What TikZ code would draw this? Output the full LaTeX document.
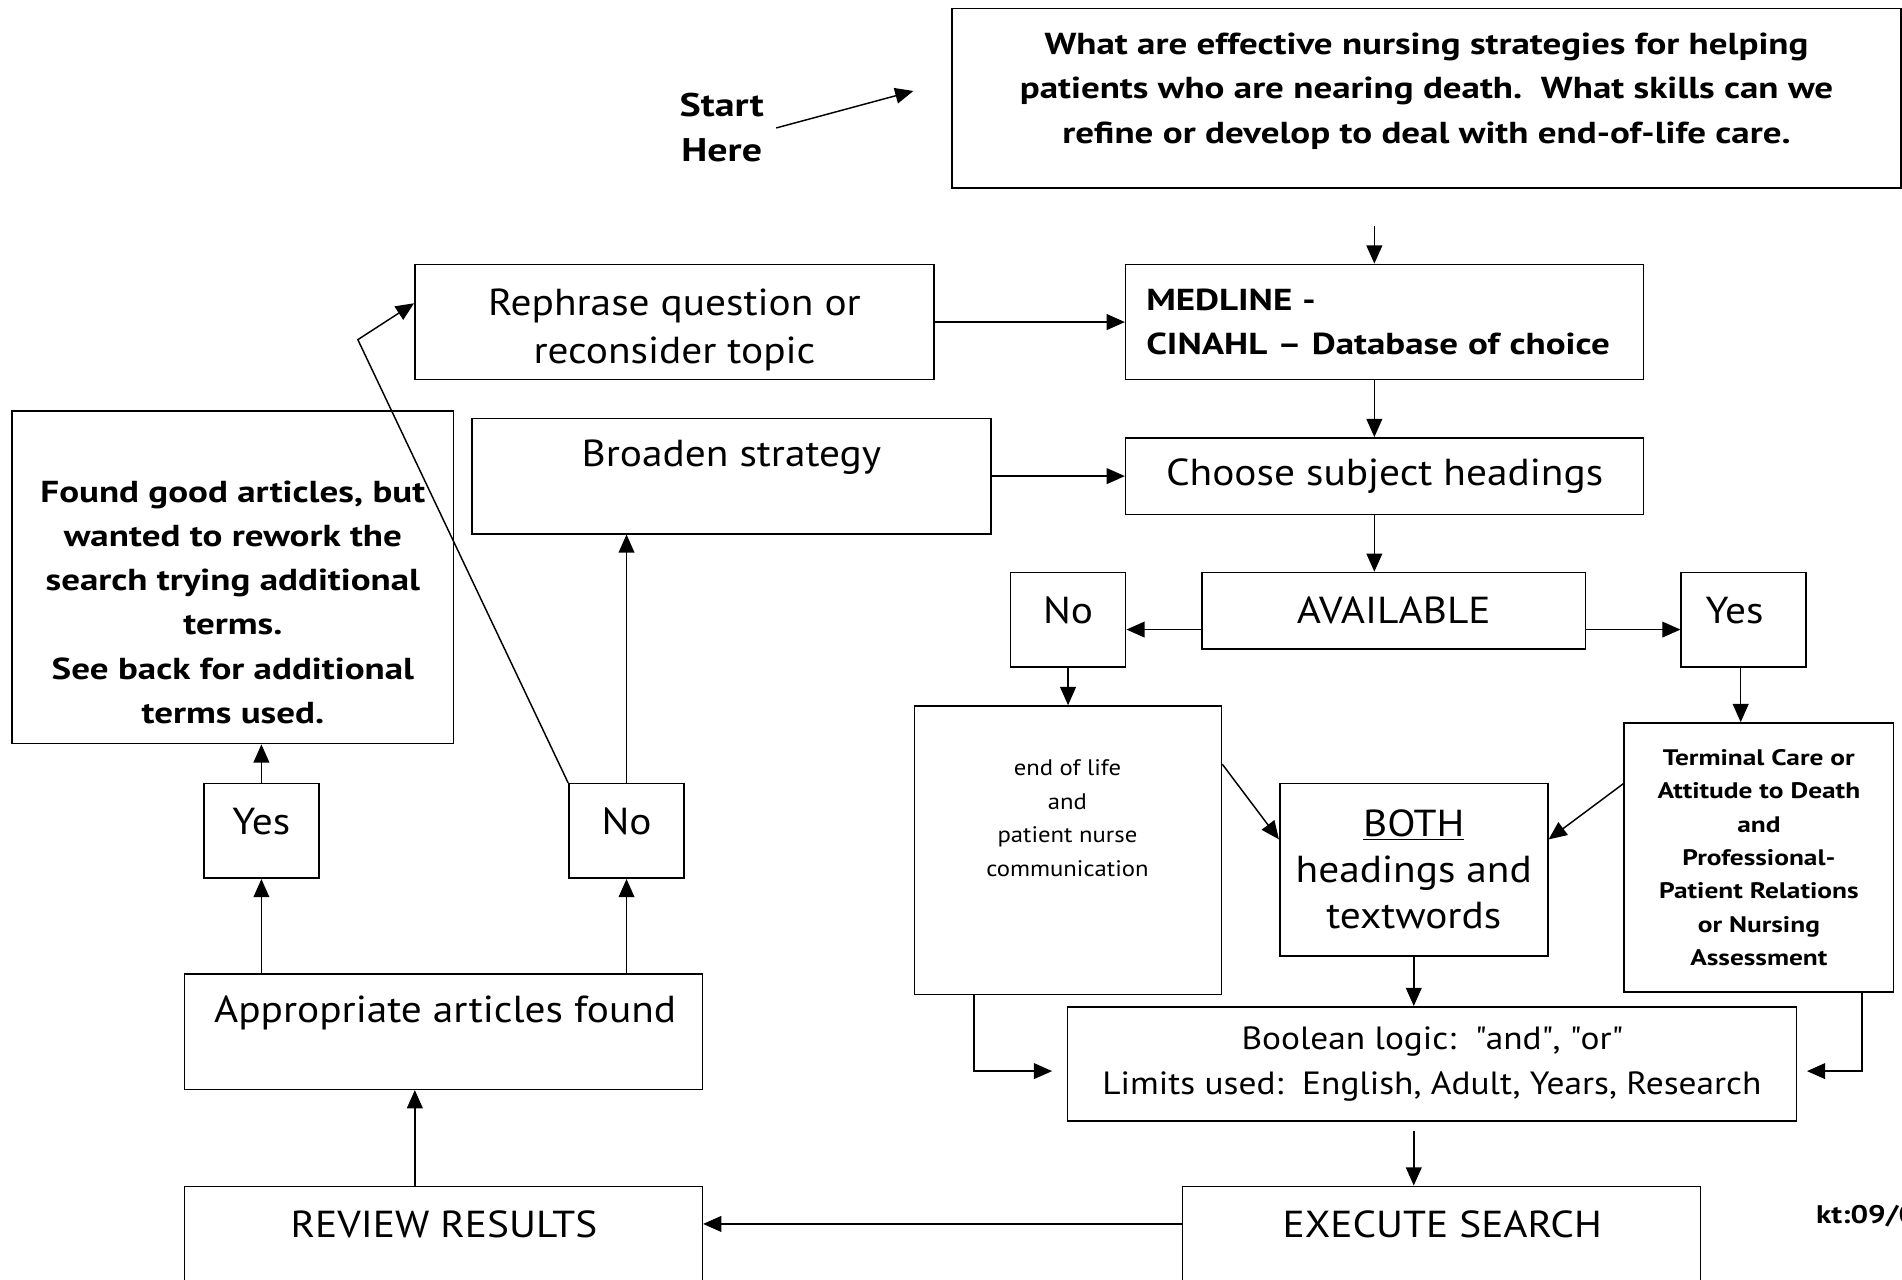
\documentclass[tikz,border=0pt]{standalone}
\usepackage{fontspec}
\setmainfont{PT Sans}[FakeStretch=1.1, BoldFeatures={FakeStretch=1.22}]
\usetikzlibrary{arrows.meta}

\newcommand{\bigtxt}{\fontsize{31}{40}\selectfont}
\newcommand{\midtxt}{\fontsize{25}{36.5}\selectfont}
\newcommand{\smalltxt}{\fontsize{18.5}{27.5}\selectfont}

\begin{document}
\begin{tikzpicture}[x=1pt, y=-1pt,
    box/.style={draw, line width=1.3pt, inner sep=0pt, align=center},
    txt/.style={inner sep=0pt, align=center},
    arr/.style={line width=1.2pt, -{Triangle[length=15pt,width=13pt]}}]
            \useasboundingbox (0,0) rectangle (1568,1055);
            \clip (0,0) rectangle (1568,1055);

            % top row
            \node[box, minimum width=782pt, minimum height=148pt] (quest) at (1176,81) {};
            \node[txt, font=\midtxt\bfseries] (quest-t) at (1176,75) {What are effective nursing strategies for helping\\patients who are nearing death.\ \ What skills can we\\refine or develop to deal with end-of-life care.};
            \node[txt, font=\fontsize{27}{37}\selectfont\bfseries] (start) at (595,105.5) {Start\\Here};
            \coordinate (quest-in) at (753,75);
            \coordinate (quest-out) at (1133,186);

            % database column
            \node[box, minimum width=428pt, minimum height=95pt] (rephrase) at (556,265.5) {};
            \node[txt, font=\bigtxt] (rephrase-t) at (556,272) {Rephrase question or\\reconsider topic};
            \node[box, minimum width=427pt, minimum height=95pt, text width=393pt, align=left, font=\midtxt\bfseries] (medline) at (1141.5,265.5) {MEDLINE -\\CINAHL – Database of choice};
            \node[box, minimum width=427pt, minimum height=63pt, font=\bigtxt] (choose) at (1141.5,392.5) {Choose subject headings};
            \node[box, minimum width=428pt, minimum height=95pt] (broaden) at (603,392.5) {};
            \node[txt, font=\bigtxt] (broaden-t) at (603,377) {Broaden strategy};
            \node[box, minimum width=316pt, minimum height=63pt, font=\bigtxt] (avail) at (1149,503.5) {AVAILABLE};
            \node[box, minimum width=95pt, minimum height=78pt] (no1) at (880.5,511) {};
            \node[txt, font=\bigtxt] (no1-t) at (880.5,503) {No};
            \node[box, minimum width=103pt, minimum height=78pt] (yes1) at (1437.5,511) {};
            \node[txt, font=\bigtxt] (yes1-t) at (1430,503) {Yes};

            % headings and textwords
            \node[box, minimum width=253pt, minimum height=238pt] (eol) at (880.5,701) {};
            \node[txt, font=\smalltxt] (eol-t) at (880,674.5) {end of life\\and\\patient nurse\\communication};
            \node[box, minimum width=222pt, minimum height=222pt, font=\smalltxt\bfseries] (term) at (1450,707) {Terminal Care or\\Attitude to Death\\and\\Professional-\\Patient Relations\\or Nursing\\Assessment};
            \node[box, minimum width=221pt, minimum height=142pt, font=\fontsize{31}{38}\selectfont] (both) at (1165.5,717) {\underline{BOTH}\\headings and\\textwords};
            \node[box, minimum width=601pt, minimum height=94pt, font=\fontsize{26.5}{37}\selectfont] (bool) at (1180.5,877) {Boolean logic:\ \ \textquotedbl and\textquotedbl, \textquotedbl or\textquotedbl\\Limits used:\ \ English, Adult, Years, Research};
            \node[box, minimum width=427pt, minimum height=90pt] (exec) at (1188.5,1023) {};
            \node[txt, font=\bigtxt] (exec-t) at (1189,1009) {EXECUTE SEARCH};
            \node[txt, font=\fontsize{21}{30}\selectfont\bfseries, anchor=west] (kt) at (1497,1003) {kt:09/0};

            % results column
            \node[box, minimum width=427pt, minimum height=90pt] (review) at (365.5,1023) {};
            \node[txt, font=\bigtxt] (review-t) at (366,1009) {REVIEW RESULTS};
            \node[box, minimum width=427pt, minimum height=95pt] (appr) at (365.5,850.5) {};
            \node[txt, font=\bigtxt] (appr-t) at (367,835) {Appropriate articles found};
            \node[box, minimum width=95pt, minimum height=78pt] (yes2) at (215.5,685) {};
            \node[txt, font=\bigtxt] (yes2-t) at (215.5,677) {Yes};
            \node[box, minimum width=95pt, minimum height=78pt] (no2) at (516.5,685) {};
            \node[txt, font=\bigtxt] (no2-t) at (516.5,677) {No};
            \node[box, minimum width=364pt, minimum height=274pt] (found) at (192,476) {};
            \node[txt, font=\midtxt\bfseries] (found-t) at (192,496.5) {Found good articles, but\\wanted to rework the\\search trying additional\\terms.\\See back for additional\\terms used.};
            \coordinate (bend) at (295,280);

            % connectors
            \draw[arr] ([xshift=10pt]start.east) -- (quest-in);
            \draw[arr] (quest-out) -- (quest-out |- medline.north);
            \draw[arr] (rephrase.east) -- (medline.west);
            \draw[arr] (quest-out |- medline.south) -- (quest-out |- choose.north);
            \draw[arr] (broaden.east) -- (choose.west);
            \draw[arr] (quest-out |- choose.south) -- (quest-out |- avail.north);
            \draw[arr] (avail.west |- 0,519) -- (no1.east |- 0,519);
            \draw[arr] (avail.east |- 0,519) -- (yes1.west |- 0,519);
            \draw[arr] (no1.south) -- (no1.south |- eol.north);
            \draw[arr] (1435,0 |- yes1.south) -- (1435,0 |- term.north);
            \draw[arr] (eol.east |- 0,630) -- (both.west |- 0,692);
            \draw[arr] (term.west |- 0,646) -- (both.east |- 0,692);
            \draw[arr] (both.south) -- (both.south |- bool.north);
            \draw[arr, shorten >=12pt] (803,0 |- eol.south) |- (bool.west |- 0,883);
            \draw[arr, shorten >=8pt] (1535,0 |- term.south) |- (bool.east |- 0,883);
            \draw[arr, shorten <=8pt] (both.south |- bool.south) -- (both.south |- exec.north);
            \draw[arr] (exec.west |- 0,1009) -- (review.east |- 0,1009);
            \draw[arr] (342,0 |- review.north) -- (342,0 |- appr.south);
            \draw[arr] (yes2.south |- appr.north) -- (yes2.south);
            \draw[arr] (no2.south |- appr.north) -- (no2.south);
            \draw[arr] (yes2.north) -- (yes2.north |- found.south);
            \draw[arr] (no2.north) -- (broaden.south -| no2.north);
            \draw[arr] (no2.north west) -- (bend) -- (rephrase.west |- 0,250);
        \end{tikzpicture}
\end{document}
